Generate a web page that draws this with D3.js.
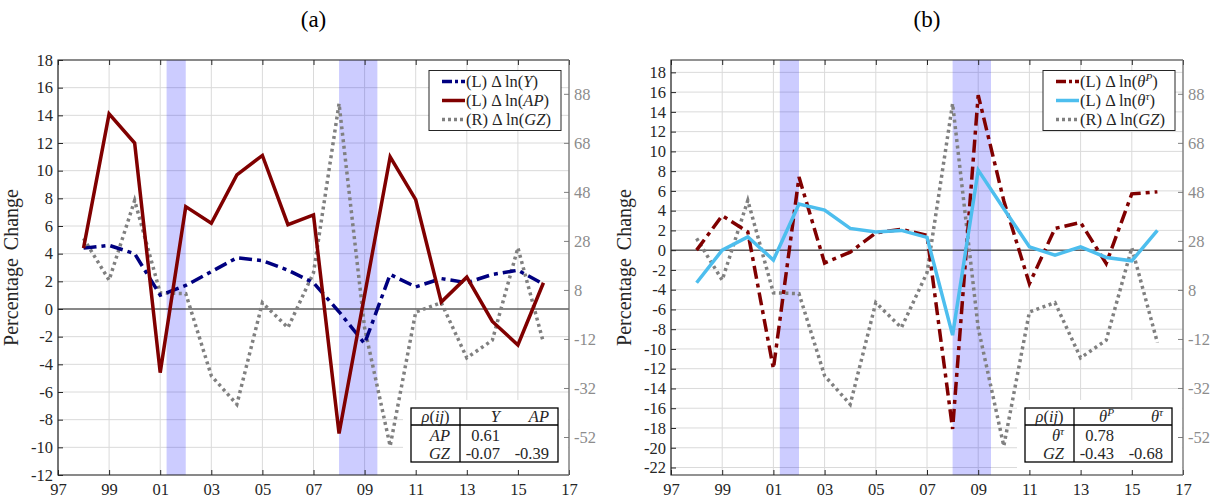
<!DOCTYPE html>
<html>
<head>
<meta charset="utf-8">
<script src="https://cdn.jsdelivr.net/npm/d3@7"></script>
<style>
body { margin: 0; background: #fff; }
svg text { font-family: "Liberation Serif", "Times New Roman", serif; fill: #262626; }
</style>
</head>
<body>
<svg id="chart" width="1214" height="500"></svg>
<script>
// yearly changes, 1998..2016
var years = [1998, 1999, 2000, 2001, 2002, 2003, 2004, 2005, 2006, 2007, 2008, 2009, 2010, 2011, 2012, 2013, 2014, 2015, 2016];
var dlnY = [4.4, 4.6, 4.0, 1.0, 1.7, 2.7, 3.7, 3.5, 2.8, 1.9, -0.2, -2.5, 2.5, 1.6, 2.2, 1.9, 2.5, 2.8, 1.8];
var dlnAP = [4.4, 14.1, 12.0, -4.6, 7.4, 6.2, 9.7, 11.1, 6.1, 6.8, -9.0, 1.0, 11.0, 7.9, 0.5, 2.3, -0.9, -2.6, 1.9];
var dlnGZ = [29, 12, 44.5, 6.8, 6.5, -27, -38.7, 2.8, -7.4, 15, 84, -7.5, -55.7, -1, 2.8, -19.7, -12.5, 25.2, -13.5];
var dlnThetaP = [0, 3.5, 1.85, -12.0, 7.4, -1.3, -0.2, 1.75, 2.1, 1.5, -18.1, 15.7, 5.0, -3.4, 2.2, 2.8, -1.35, 5.7, 5.9];
var dlnThetaTau = [-3.3, 0, 1.35, -1.0, 4.66, 4.05, 2.2, 1.85, 2.0, 1.3, -8.6, 8.1, 4.2, 0.34, -0.5, 0.34, -0.74, -1.08, 2.0];

var recessions = [[2001.25, 2002.0], [2008.0, 2009.5]];
var xTicks = [1997, 1999, 2001, 2003, 2005, 2007, 2009, 2011, 2013, 2015, 2017];
var leftTicksA = d3.range(-12, 19, 2);
var leftTicksB = d3.range(-22, 19, 2);
var rightTicks = [-52, -32, -12, 8, 28, 48, 68, 88];

// correlation tables
var corrColsA = [[{t: 'Y', i: true}], [{t: 'AP', i: true}]];
var corrRowsA = [[{t: 'AP', i: true}], [{t: 'GZ', i: true}]];
var corrValsA = [[0.61, null], [-0.07, -0.39]];
var corrColsB = [[{t: 'θ', i: true}, {t: 'P', i: true, sup: true}], [{t: 'θ', i: true}, {t: 'τ', i: true, sup: true}]];
var corrRowsB = [[{t: 'θ', i: true}, {t: 'τ', i: true, sup: true}], [{t: 'GZ', i: true}]];
var corrValsB = [[0.78, null], [-0.43, -0.68]];

var svg = d3.select('svg#chart');
var plotTop = 60, plotBottom = 475;

function richText(sel, parts, size) {
    parts.forEach(function (p, k) {
        var ts = sel.append('tspan').text(p.t);
        if (p.i) ts.attr('font-style', 'italic');
        if (p.sup) {
            ts.attr('font-size', size * 0.68).attr('dy', -size * 0.35);
        } else if (k > 0 && parts[k - 1].sup) {
            ts.attr('dy', size * 0.35);
        }
    });
}

function DrawPanel(o) {
    var x = d3.scaleLinear().domain([1997, 2017]).range([o.left, o.right]);
    var yL = d3.scaleLinear().domain(o.leftDomain).range([plotBottom, plotTop]);
    var yR = d3.scaleLinear().domain([-67.5, 101.8]).range([plotBottom, plotTop]);
    var g = svg.append('g');

    // title
    g.append('text').text(o.title)
        .attr('x', (o.left + o.right) / 2).attr('y', 27)
        .attr('text-anchor', 'middle').attr('font-size', 23).style('fill', '#000');

    // grid
    g.selectAll('line.gx').data(xTicks).enter().append('line')
        .attr('x1', function (d) { return x(d); }).attr('x2', function (d) { return x(d); })
        .attr('y1', plotTop).attr('y2', plotBottom)
        .attr('stroke', '#dadada').attr('stroke-width', 1);
    g.selectAll('line.gy').data(o.leftTicks).enter().append('line')
        .attr('y1', function (d) { return yL(d); }).attr('y2', function (d) { return yL(d); })
        .attr('x1', o.left).attr('x2', o.right)
        .attr('stroke', '#dadada').attr('stroke-width', 1);

    // recession bands
    g.selectAll('rect.rec').data(recessions).enter().append('rect')
        .attr('x', function (d) { return x(d[0]); })
        .attr('width', function (d) { return x(d[1]) - x(d[0]); })
        .attr('y', plotTop).attr('height', plotBottom - plotTop)
        .attr('fill', 'rgb(0,0,255)').attr('fill-opacity', 0.2);

    // zero line
    g.append('line').attr('x1', o.left).attr('x2', o.right)
        .attr('y1', yL(0)).attr('y2', yL(0))
        .attr('stroke', '#222').attr('stroke-width', 1);

    // series: right axis first, so the left ones sit on top
    var drawOrder = o.series.filter(function (s) { return s.axis === 'R'; })
        .concat(o.series.filter(function (s) { return s.axis !== 'R'; }));
    drawOrder.forEach(function (s) {
        var yy = s.axis === 'R' ? yR : yL;
        var line = d3.line()
            .x(function (d, i) { return x(years[i]); })
            .y(function (d) { return yy(d); });
        g.append('path').datum(s.values)
            .attr('d', line)
            .attr('fill', 'none')
            .attr('stroke', s.color)
            .attr('stroke-width', s.width)
            .attr('stroke-dasharray', s.dash)
            .attr('stroke-linejoin', 'miter');
    });

    // white patch behind table
    var tw = 147, th = 54;
    var tx = o.right - 11 - tw, ty = plotBottom - 13 - th;
    g.append('rect').attr('x', tx - 8).attr('y', ty - 8)
        .attr('width', o.right - tx + 7).attr('height', plotBottom - ty + 7)
        .attr('fill', '#fff');

    // axes
    var fmt = function (d) { return String(d); };
    var ax = g.append('g').attr('transform', 'translate(0,' + plotBottom + ')')
        .call(d3.axisBottom(x).tickValues(xTicks).tickSize(-5).tickSizeOuter(0).tickPadding(5)
            .tickFormat(function (d) { return d3.format('02d')(d % 100); }));
    var axTop = g.append('g').attr('transform', 'translate(0,' + plotTop + ')')
        .call(d3.axisTop(x).tickValues(xTicks).tickSize(-5).tickSizeOuter(0).tickFormat(''));
    var ayl = g.append('g').attr('transform', 'translate(' + o.left + ',0)')
        .call(d3.axisLeft(yL).tickValues(o.leftTicks).tickSize(-5).tickSizeOuter(0).tickPadding(5).tickFormat(fmt));
    var ayr = g.append('g').attr('transform', 'translate(' + o.right + ',0)')
        .call(d3.axisRight(yR).tickValues(rightTicks).tickSize(-5).tickSizeOuter(0).tickPadding(5).tickFormat(fmt));
    [ax, axTop, ayl].forEach(function (a) {
        a.select('.domain').remove();
        a.selectAll('line').attr('stroke', '#262626');
        a.selectAll('text').attr('font-size', 16.5).style('font-family', '"Liberation Serif", serif').style('fill', '#262626');
    });
    ax.selectAll('text').attr('dy', '0.9em');
    ayr.select('.domain').remove();
    ayr.selectAll('line').attr('stroke', '#808080');
    ayr.selectAll('text').attr('font-size', 16.5).style('font-family', '"Liberation Serif", serif').style('fill', '#8c8c8c');

    // frame
    g.append('path')
        .attr('d', 'M' + o.right + ',' + plotTop + 'H' + o.left + 'V' + plotBottom + 'H' + o.right)
        .attr('fill', 'none').attr('stroke', '#262626').attr('stroke-width', 1.2);
    g.append('line').attr('x1', o.right).attr('x2', o.right).attr('y1', plotTop).attr('y2', plotBottom)
        .attr('stroke', '#6e6e6e').attr('stroke-width', 1.2);

    // y label
    g.append('text').text('Percentage Change')
        .attr('transform', 'translate(' + (o.left - 40) + ',' + ((plotTop + plotBottom) / 2) + ') rotate(-90)')
        .attr('text-anchor', 'middle').attr('font-size', 20).attr('word-spacing', 3);

    // legend
    var lw = 132, lh = 60;
    var lx = o.right - 8 - lw, ly = plotTop + 10.5;
    var lg = g.append('g').attr('transform', 'translate(' + lx + ',' + ly + ')');
    lg.append('rect').attr('width', lw).attr('height', lh)
        .attr('fill', '#fff').attr('stroke', '#262626').attr('stroke-width', 1);
    o.series.forEach(function (s, i) {
        var cy = 11 + i * 19;
        lg.append('line').attr('x1', 13).attr('x2', 36).attr('y1', cy).attr('y2', cy)
            .attr('stroke', s.color).attr('stroke-width', s.width)
            .attr('stroke-dasharray', s.legendDash || s.dash);
        var t = lg.append('text').attr('x', 37).attr('y', cy + 5).attr('font-size', 16.5);
        richText(t, s.label, 16.5);
    });

    // correlation table
    var tg = g.append('g').attr('transform', 'translate(' + tx + ',' + ty + ')');
    tg.append('rect').attr('width', tw).attr('height', th)
        .attr('fill', '#fff').attr('stroke', '#000').attr('stroke-width', 1.3);
    tg.append('line').attr('x1', 49).attr('x2', 49).attr('y1', 0).attr('y2', th).attr('stroke', '#000').attr('stroke-width', 1.3);
    tg.append('line').attr('x1', 0).attr('x2', tw).attr('y1', 17).attr('y2', 17).attr('stroke', '#000').attr('stroke-width', 1.3);
    var hdr = tg.append('text').attr('x', 24.5).attr('y', 13.5).attr('text-anchor', 'middle').attr('font-size', 16.5);
    richText(hdr, [{t: 'ρ', i: true}, {t: '('}, {t: 'ij', i: true}, {t: ')'}], 16.5);
    var colX = [89, 138];
    o.corrCols.forEach(function (c, j) {
        var t = tg.append('text').attr('x', colX[j]).attr('y', 13.5).attr('text-anchor', 'end').attr('font-size', 16.5);
        richText(t, c, 16.5);
    });
    o.corrRows.forEach(function (r, i) {
        var by = 32.5 + i * 18;
        var t = tg.append('text').attr('x', 39).attr('y', by).attr('text-anchor', 'end').attr('font-size', 16.5);
        richText(t, r, 16.5);
        o.corrVals[i].forEach(function (v, j) {
            if (v === null) return;
            tg.append('text').text(v.toFixed(2)).attr('x', colX[j]).attr('y', by)
                .attr('text-anchor', 'end').attr('font-size', 16.5);
        });
    });
}

var dashDot = '13,5,4,5';
var dotted = '3,3.5';

DrawPanel({
    title: '(a)', left: 58, right: 569,
    leftDomain: [-12, 18], leftTicks: leftTicksA,
    series: [
        {values: dlnY, axis: 'L', color: '#000080', width: 3.5, dash: dashDot, legendDash: '10,3,3,3',
         label: [{t: '(L) Δ ln('}, {t: 'Y', i: true}, {t: ')'}]},
        {values: dlnAP, axis: 'L', color: '#800000', width: 3.5, dash: null,
         label: [{t: '(L) Δ ln('}, {t: 'AP', i: true}, {t: ')'}]},
        {values: dlnGZ, axis: 'R', color: '#808080', width: 3.5, dash: dotted, legendDash: '3,3',
         label: [{t: '(R) Δ ln('}, {t: 'GZ', i: true}, {t: ')'}]}
    ],
    corrCols: corrColsA, corrRows: corrRowsA, corrVals: corrValsA
});

DrawPanel({
    title: '(b)', left: 671, right: 1183,
    leftDomain: [-22.76, 19.25], leftTicks: leftTicksB,
    series: [
        {values: dlnThetaP, axis: 'L', color: '#800000', width: 3.5, dash: dashDot, legendDash: '10,3,3,3',
         label: [{t: '(L) Δ ln('}, {t: 'θ', i: true}, {t: 'P', i: true, sup: true}, {t: ')'}]},
        {values: dlnThetaTau, axis: 'L', color: '#4dbeee', width: 3.5, dash: null,
         label: [{t: '(L) Δ ln('}, {t: 'θ', i: true}, {t: 'τ', i: true, sup: true}, {t: ')'}]},
        {values: dlnGZ, axis: 'R', color: '#808080', width: 3.5, dash: dotted, legendDash: '3,3',
         label: [{t: '(R) Δ ln('}, {t: 'GZ', i: true}, {t: ')'}]}
    ],
    corrCols: corrColsB, corrRows: corrRowsB, corrVals: corrValsB
});
</script>
</body>
</html>
